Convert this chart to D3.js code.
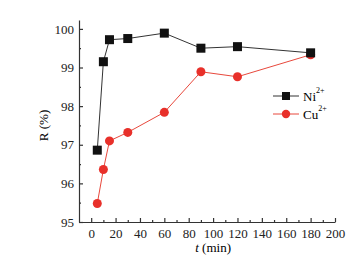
<!DOCTYPE html>
<html>
<head>
<meta charset="utf-8">
<script src="https://cdn.jsdelivr.net/npm/d3@7"></script>
<style>
  body { margin: 0; background: #fff; }
  text { font-family: "Liberation Serif", "DejaVu Serif", serif; }
</style>
</head>
<body>
<div id="chart"></div>
<script>
// data
const times = [5, 10, 15, 30, 60, 90, 120, 180];
const niValues = [96.86, 99.15, 99.72, 99.75, 99.89, 99.50, 99.54, 99.38];
const cuValues = [95.48, 96.36, 97.10, 97.32, 97.84, 98.89, 98.76, 99.33];
const xTicks = [0, 20, 40, 60, 80, 100, 120, 140, 160, 180, 200];
const yTicks = [95, 96, 97, 98, 99, 100];

const width = 363, height = 263;
const margin = {top: 20, right: 28, bottom: 41, left: 79};

const svg = d3.select('#chart').append('svg')
    .attr('width', width)
    .attr('height', height);

const x = d3.scaleLinear().domain([-10, 200]).range([margin.left, width - margin.right]);
const y = d3.scaleLinear().domain([95, 100.23]).range([height - margin.bottom, margin.top]);

// axes, ticks pointing inward
const xAxis = svg.append('g').attr('transform', `translate(0,${y(95)})`);
xAxis.call(d3.axisBottom(x).tickValues(xTicks).tickFormat(d3.format('d'))
    .tickSize(-4).tickPadding(7).tickSizeOuter(0));
xAxis.append('g').call(d3.axisBottom(x).tickValues(d3.range(10, 200, 20)).tickSize(-2).tickFormat(''))
    .select('.domain').remove();

const yAxis = svg.append('g').attr('transform', `translate(${x(-10)},0)`);
yAxis.call(d3.axisLeft(y).tickValues(yTicks).tickFormat(d3.format('d'))
    .tickSize(-4).tickPadding(5).tickSizeOuter(0));
yAxis.append('g').call(d3.axisLeft(y).tickValues(d3.range(95.5, 100, 1)).tickSize(-2).tickFormat(''))
    .select('.domain').remove();

svg.selectAll('g').attr('font-family', '"Liberation Serif", serif');
svg.selectAll('.tick text').attr('font-size', 13).attr('fill', '#222');
svg.selectAll('.domain, .tick line').attr('stroke', '#333').attr('stroke-width', 1.2);

// axis titles
svg.append('text')
    .attr('transform', `translate(48,${(y(95) + y(100)) / 2}) rotate(-90)`)
    .attr('text-anchor', 'middle')
    .attr('font-size', 13)
    .text('R (%)');

const xt = svg.append('text')
    .attr('x', x(100))
    .attr('y', 252)
    .attr('text-anchor', 'middle')
    .attr('font-size', 13);
xt.append('tspan').attr('font-style', 'italic').text('t');
xt.append('tspan').text(' (min)');

const line = d3.line().x((d, i) => x(times[i])).y(d => y(d));

const niColor = '#111', niLine = '#333';
const cuColor = '#e8302a', cuLine = '#e8483c';

svg.append('path').datum(niValues)
    .attr('d', line).attr('fill', 'none').attr('stroke', niLine).attr('stroke-width', 1);
svg.append('path').datum(cuValues)
    .attr('d', line).attr('fill', 'none').attr('stroke', cuLine).attr('stroke-width', 1);

svg.selectAll('circle.cu').data(cuValues).join('circle')
    .classed('cu', true)
    .attr('cx', (d, i) => x(times[i]))
    .attr('cy', d => y(d))
    .attr('r', 4.5)
    .attr('fill', cuColor);

svg.selectAll('rect.ni').data(niValues).join('rect')
    .classed('ni', true)
    .attr('x', (d, i) => x(times[i]) - 4.5)
    .attr('y', d => y(d) - 4.5)
    .attr('width', 9)
    .attr('height', 9)
    .attr('fill', niColor);

// legend
const legend = [
  {name: 'Ni', color: niColor, line: niLine, shape: 'rect', y: 96},
  {name: 'Cu', color: cuColor, line: cuLine, shape: 'circle', y: 114}
];
legend.forEach(l => {
  const g = svg.append('g');
  g.append('line').attr('x1', 273).attr('x2', 299).attr('y1', l.y).attr('y2', l.y)
      .attr('stroke', l.line).attr('stroke-width', 1);
  if (l.shape === 'rect') {
    g.append('rect').attr('x', 282).attr('y', l.y - 4).attr('width', 8).attr('height', 8).attr('fill', l.color);
  } else {
    g.append('circle').attr('cx', 286).attr('cy', l.y).attr('r', 4.2).attr('fill', l.color);
  }
  const t = g.append('text').attr('x', 303).attr('y', l.y + 5).attr('font-size', 13);
  t.append('tspan').text(l.name);
  t.append('tspan').attr('font-size', 8).attr('dy', -8).text('2+');
});
</script>
</body>
</html>
